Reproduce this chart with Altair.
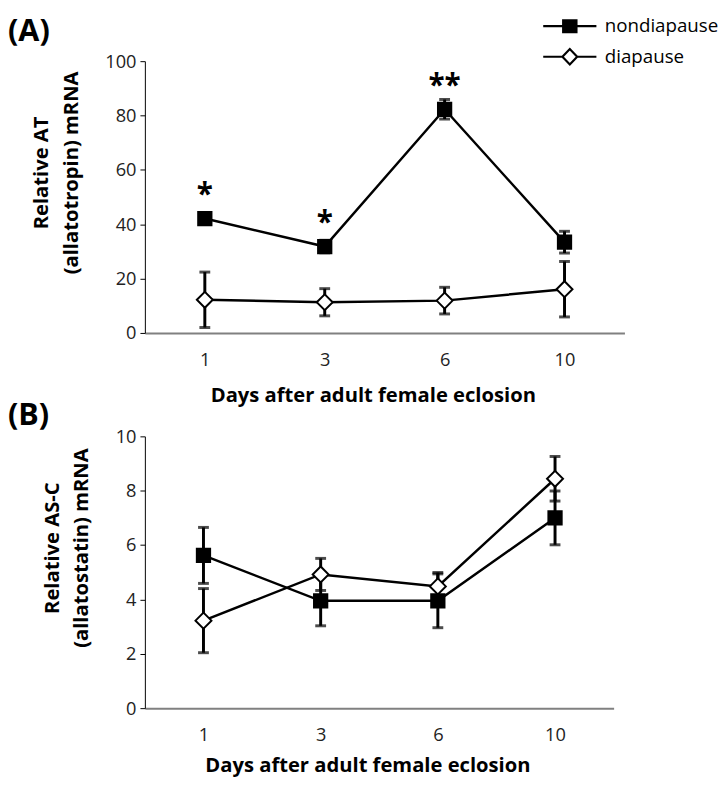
import altair as alt
import pandas as pd

days = ["1", "3", "6", "10"]
series_names = ["nondiapause", "diapause"]

# Panel A: relative AT (allatotropin) mRNA
at_nondiapause = [42.1, 31.8, 82.3, 33.4]
at_nondiapause_err = [2.0, 2.3, 3.6, 4.0]
at_diapause = [12.2, 11.3, 11.9, 16.1]
at_diapause_err = [10.2, 5.0, 4.9, 10.2]
at_signif = ["*", "*", "**", ""]

# Panel B: relative AS-C (allatostatin) mRNA
asc_nondiapause = [5.62, 3.95, 3.95, 7.0]
asc_nondiapause_err = [1.03, 0.92, 0.99, 0.99]
asc_diapause = [3.22, 4.92, 4.48, 8.44]
asc_diapause_err = [1.18, 0.59, 0.51, 0.82]
asc_signif = ["", "", "", ""]

panel_labels = ["(A)", "(B)"]

FONT = "Open Sans"
XTITLE = "Days after adult female eclosion"

# marker shapes (custom paths, scaled by sqrt(size)/2)
SQ = "M-0.9,-0.9L0.9,-0.9L0.9,0.9L-0.9,0.9Z"
DI = "M-1.08,0L0,-1.08L1.08,0L0,1.08Z"
# legend symbols: marker with a line through it
SQ_LEG = "M-3.6,0L3.6,0M-0.9,-0.8L0.9,-0.8L0.9,0.8L-0.9,0.8Z"
DI_LEG = "M-3.6,0L-1,0M1,0L3.6,0M-1,0L0,-1.05L1,0L0,1.05Z"


def make_table(non, non_err, dia, dia_err, signif):
    rows = []
    for i, d in enumerate(days):
        rows.append(dict(day=d, series=series_names[0], mean=non[i],
                         lo=non[i] - non_err[i], hi=non[i] + non_err[i], sig=signif[i]))
        rows.append(dict(day=d, series=series_names[1], mean=dia[i],
                         lo=dia[i] - dia_err[i], hi=dia[i] + dia_err[i], sig=""))
    return pd.DataFrame(rows)


legend = alt.Legend(
    title=None, orient="none", legendX=422, legendY=-45,
    labelFont=FONT, labelFontSize=19, labelColor="black", labelOffset=26,
    symbolStrokeColor="black", symbolStrokeWidth=2.2, symbolSize=225,
    rowPadding=8, padding=0,
)


def panel(df, ytitle, ymax, ystep, w, h, label, label_y, x_title_pad, with_legend):
    base = alt.Chart(df)
    x = alt.X("day:O", sort=days,
              scale=alt.Scale(type="point", padding=0.5),
              axis=alt.Axis(title=XTITLE, labelAngle=0, ticks=False, tickSize=0,
                            domainColor="#808080", domainWidth=2,
                            labelPadding=18, labelFont=FONT, labelFontSize=18.5,
                            labelColor="#222222",
                            titleFont=FONT, titleFontSize=20.5, titleFontWeight="bold",
                            titleColor="black", titlePadding=x_title_pad,
                            titleX=w / 2 - 12))
    y_scale = alt.Scale(domain=[0, ymax], nice=False)
    y = alt.Y("mean:Q", scale=y_scale,
              axis=alt.Axis(title=ytitle, values=list(range(0, ymax + 1, ystep)),
                            grid=False, tickSize=5, tickColor="black", tickWidth=1,
                            domainColor="black", domainWidth=1,
                            labelPadding=4, labelFont=FONT, labelFontSize=18.5,
                            labelColor="#222222",
                            titleFont=FONT, titleFontSize=20.5, titleFontWeight="bold",
                            titleColor="black", titlePadding=24, titleLineHeight=30,
                            titleY=h / 2 - 25))

    bars = base.mark_rule(color="black", strokeWidth=3).encode(
        x=x, y=alt.Y("lo:Q", scale=y_scale), y2="hi:Q", detail="series:N")
    caps_lo = base.mark_tick(color="black", thickness=3, size=11).encode(
        x=x, y=alt.Y("lo:Q", scale=y_scale))
    caps_hi = base.mark_tick(color="black", thickness=3, size=11).encode(
        x=x, y=alt.Y("hi:Q", scale=y_scale))
    lines = base.mark_line(color="black", strokeWidth=2.5).encode(
        x=x, y=y, detail="series:N")
    points = base.mark_point(filled=True, stroke="black", strokeWidth=2,
                             size=225, opacity=1).encode(
        x=x, y=alt.Y("mean:Q", scale=y_scale),
        shape=alt.Shape("series:N", scale=alt.Scale(domain=series_names, range=[SQ, DI]),
                        legend=None),
        fill=alt.Fill("series:N", scale=alt.Scale(domain=series_names, range=["black", "white"]),
                      legend=None),
    )
    stars = base.mark_text(font=FONT, fontSize=30, fontWeight="bold", color="black",
                           baseline="middle", dy=-24).encode(
        x=x, y=alt.Y("mean:Q", scale=y_scale), text="sig:N"
    ).transform_filter(alt.datum.sig != "")
    tag = alt.Chart(pd.DataFrame({"label": [label]})).mark_text(
        font=FONT, fontSize=31, fontWeight="bold", color="black",
        align="left", baseline="top").encode(
        x=alt.value(-139), y=alt.value(label_y), text="label:N")

    layers = [bars, caps_lo, caps_hi, lines, points, stars, tag]
    if with_legend:
        legend_layer = base.mark_point(filled=True, strokeWidth=2.2,
                                       size=225, opacity=1).encode(
            x=x, y=alt.Y("mean:Q", scale=y_scale),
            shape=alt.Shape("series:N",
                            scale=alt.Scale(domain=series_names, range=[SQ_LEG, DI_LEG]),
                            legend=legend),
            fill=alt.Fill("series:N",
                          scale=alt.Scale(domain=series_names, range=["black", "white"]),
                          legend=legend),
            stroke=alt.Stroke("series:N",
                              scale=alt.Scale(domain=series_names, range=["black", "black"]),
                              legend=legend),
        ).transform_filter("false")
        layers.append(legend_layer)

    return alt.layer(*layers).resolve_scale(
        shape="independent", fill="independent", stroke="independent"
    ).properties(width=w, height=h)


df_a = make_table(at_nondiapause, at_nondiapause_err, at_diapause, at_diapause_err, at_signif)
df_b = make_table(asc_nondiapause, asc_nondiapause_err, asc_diapause, asc_diapause_err, asc_signif)

panel_a = panel(df_a, ["Relative AT", "(allatotropin) mRNA"], 100, 20, 487, 276,
                panel_labels[0], -44, 17, True)
panel_b = panel(df_b, ["Relative AS-C", "(allatostatin) mRNA"], 10, 2, 476, 276,
                panel_labels[1], -36, 12, False)

chart = alt.vconcat(panel_a, panel_b, spacing=105, bounds="flush").properties(
    padding={"left": 0, "top": 3, "right": 0, "bottom": 0}
).configure_view(stroke=None)

chart.save("out.html", embed_options={"renderer": "svg", "actions": False})
